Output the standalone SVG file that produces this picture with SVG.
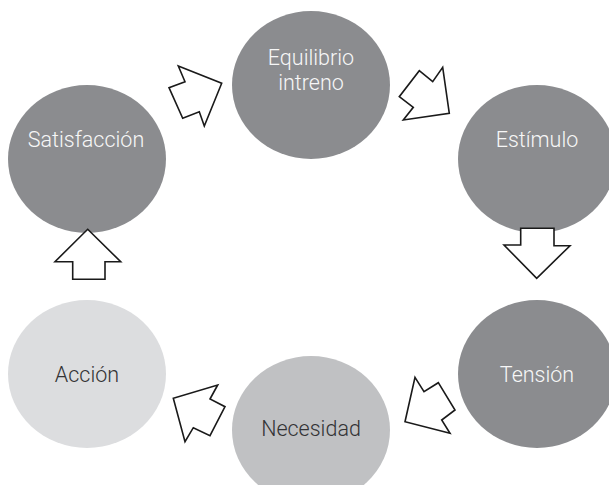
<svg xmlns="http://www.w3.org/2000/svg" width="609" height="485" viewBox="0 0 609 485">
<style>
.dark{fill:#8b8c8f}
.mid{fill:#c0c1c3}
.light{fill:#dcdddf}
.t{font-family:Roboto,"Liberation Sans",Arial,sans-serif;font-weight:300;font-size:21.5px;text-anchor:middle}
.tw{fill:#f7f7f7}
.td{fill:#333335}
.arr{fill:#ffffff;stroke:#1a1a1a;stroke-width:1.6;stroke-linejoin:miter}
</style>
<rect width="609" height="485" fill="#ffffff"/>
<g id="node-equilibrio">
<ellipse class="dark" cx="311" cy="85" rx="79" ry="74"/>
<text class="t tw" x="311" y="65">Equilibrio</text>
<text class="t tw" x="311" y="90">intreno</text>
</g>
<g id="node-estimulo">
<ellipse class="dark" cx="537" cy="159" rx="79" ry="74"/>
<text class="t tw" x="537" y="147">Estímulo</text>
</g>
<g id="node-tension">
<ellipse class="dark" cx="537" cy="374" rx="79" ry="74"/>
<text class="t tw" x="537" y="382">Tensión</text>
</g>
<g id="node-necesidad">
<ellipse class="mid" cx="311" cy="430" rx="79" ry="74"/>
<text class="t td" x="311" y="436">Necesidad</text>
</g>
<g id="node-accion">
<ellipse class="light" cx="87" cy="374" rx="79" ry="74"/>
<text class="t td" x="87" y="382">Acción</text>
</g>
<g id="node-satisfaccion">
<ellipse class="dark" cx="87" cy="159" rx="79" ry="74"/>
<text class="t tw" x="86" y="147">Satisfacción</text>
</g>
<g id="connectors">
<polygon class="arr" points="178.3,66 221.7,83.3 204.3,126 199.3,111.7 182.7,118.3 169,87.7 185,81.7"/>
<polygon class="arr" points="442.7,67.3 449.3,113.3 403.3,120 413.3,107.3 399.3,96.7 419.3,70.7 432.7,81.7"/>
<polygon class="arr" points="520.7,228.3 554,228.3 554,245.7 570,245.7 536.7,278.3 504,245 520.7,245"/>
<polygon class="arr" points="415,377.3 424,391.7 438.3,382.7 455,410 441.7,420 450,433.3 405,421.7"/>
<polygon class="arr" points="217.7,385 210,399 225,406.7 210,435.7 193.3,427.7 185,441.7 173.3,398.3"/>
<polygon class="arr" points="87.7,229.3 120.7,261.7 105,261.7 105,279.3 72.7,279.3 72.7,261.7 55,261.7"/>
</g>
</svg>
